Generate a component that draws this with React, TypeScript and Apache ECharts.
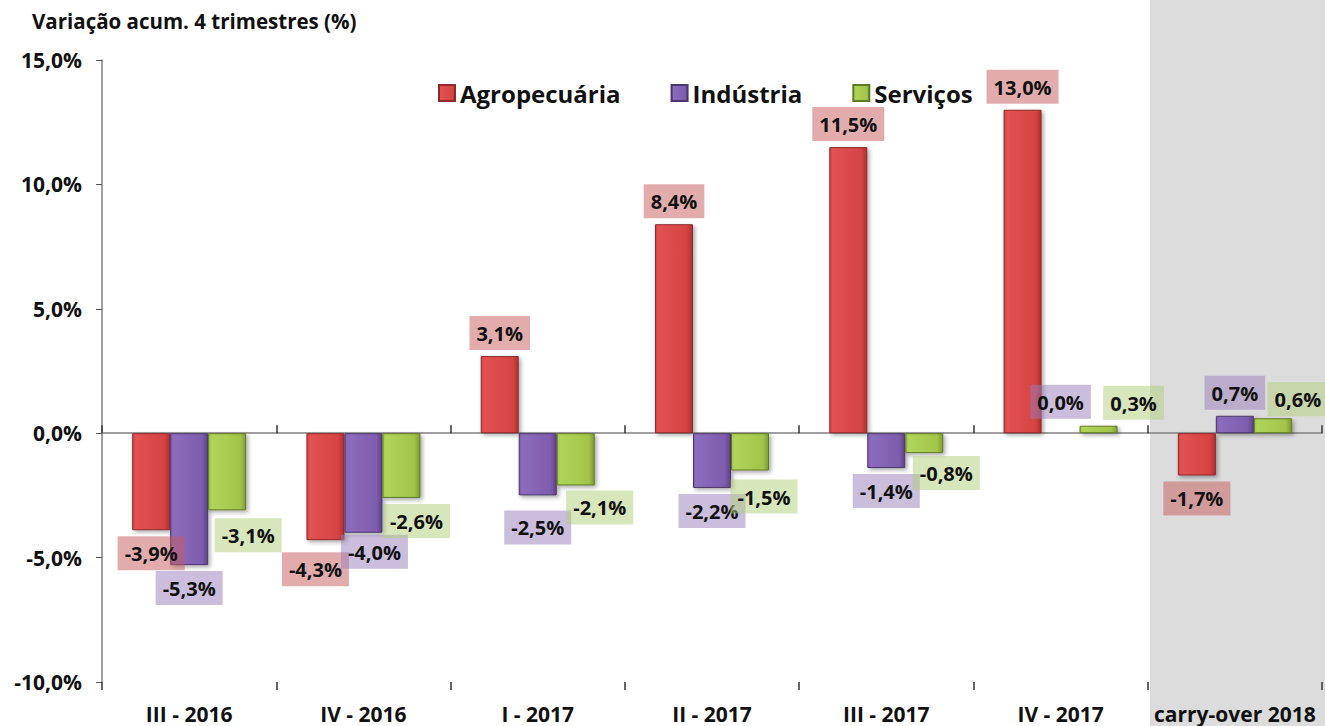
import React, { useEffect, useRef } from "react";
import * as echarts from "echarts";

const categories = ["III - 2016", "IV - 2016", "I - 2017", "II - 2017", "III - 2017", "IV - 2017", "carry-over 2018"];
const agro = [-3.9, -4.3, 3.1, 8.4, 11.5, 13.0, -1.7];
const industria = [-5.3, -4.0, -2.5, -2.2, -1.4, 0.0, 0.7];
const servicos = [-3.1, -2.6, -2.1, -1.5, -0.8, 0.3, 0.6];
const seriesNames = ["Agropecuária", "Indústria", "Serviços"];
const yTicks = { min: -10, max: 15, interval: 5 };

// label nudges (dx, dy) imitating hand-placed labels
const agroNudge = [[0, 0], [-10, 6], [0, 0], [0, 0], [0, 0], [0, 0], [0, 0]];
const indNudge = [[0, 0], [11, -4], [0, 9], [0, 0], [0, 0], [0, -8], [0, 0]];
const servNudge = [[21, 2], [15, 0], [24, -1], [14, 3], [22, -3], [35, 0], [25, 4]];

const FONT = "'Open Sans', 'Liberation Sans', sans-serif";

const fmt = (v: number) => v.toFixed(1).replace(".", ",") + "%";

function grad(light: string, mid: string, dark: string) {
  return new echarts.graphic.LinearGradient(0, 0, 1, 0, [
    { offset: 0, color: mid },
    { offset: 0.08, color: light },
    { offset: 0.85, color: mid },
    { offset: 1, color: dark },
  ]);
}

export default function App() {
  const ref = useRef<HTMLDivElement>(null);
  useEffect(() => {
    if (!ref.current) return;
    const chart = echarts.init(ref.current, undefined, { renderer: "svg" });

    const styles = [
      { fill: grad("#e25252", "#d64343", "#b03030"), border: "#8e2a2a", labelBg: "rgba(200, 90, 90, 0.5)", nudge: agroNudge, data: agro },
      { fill: grad("#8c6cbc", "#7e5cae", "#5f4388"), border: "#4c376c", labelBg: "rgba(150, 125, 185, 0.5)", nudge: indNudge, data: industria },
      { fill: grad("#b0d45a", "#a2c44a", "#7f9c33"), border: "#5f7a25", labelBg: "rgba(175, 205, 120, 0.5)", nudge: servNudge, data: servicos },
    ];

    const series = styles.map((s, si) => ({
      name: seriesNames[si],
      type: "bar",
      xAxisIndex: 0,
      barWidth: 38,
      barGap: "0%",
      itemStyle: {
        color: s.fill,
        borderColor: s.border,
        borderWidth: 1,
        shadowColor: "rgba(0,0,0,0.35)",
        shadowBlur: 4,
        shadowOffsetX: 2,
        shadowOffsetY: 2,
      },
      data: s.data.map((v, i) => ({
        value: v,
        label: {
          show: true,
          position: v < 0 ? "bottom" : "top",
          distance: 6,
          offset: s.nudge[i],
          formatter: () => fmt(v),
          fontFamily: FONT,
          fontWeight: "bold",
          fontSize: 20,
          color: "#111",
          backgroundColor: s.labelBg,
          padding: [5, 7, 4, 7],
          lineHeight: 25,
        },
      })),
    }));

    chart.setOption({
      animation: false,
      backgroundColor: "#ffffff",
      graphic: [
        {
          type: "rect",
          z: -10,
          silent: true,
          shape: { x: 1150, y: 0, width: 175, height: 726 },
          style: { fill: "#dcdcdc" },
        },
      ],
      title: {
        text: "Variação acum. 4 trimestres (%)",
        left: 27,
        top: 5,
        textStyle: { fontFamily: FONT, fontWeight: "bold", fontSize: 20.5, color: "#111" },
      },
      legend: {
        left: 433,
        top: 76,
        icon: "rect",
        itemWidth: 16,
        itemHeight: 16,
        itemGap: 50,
        data: seriesNames,
        textStyle: { fontFamily: FONT, fontWeight: "bold", fontSize: 24, color: "#111" },
      },
      grid: { left: 102, right: 3, top: 60, bottom: 44, containLabel: false },
      xAxis: [
        {
          type: "category",
          data: categories,
          position: "bottom",
          axisLine: { show: false, onZero: false },
          axisTick: { show: false },
          axisLabel: {
            interval: 0,
            margin: 21,
            fontFamily: FONT,
            fontWeight: "bold",
            fontSize: 21,
            color: "#111",
          },
        },
        {
          type: "category",
          data: categories,
          position: "bottom",
          axisLine: { show: true, onZero: true, lineStyle: { color: "#808080", width: 1.5 } },
          axisTick: { show: true, inside: true, interval: 0, length: 8, lineStyle: { color: "#333", width: 1.5 } },
          axisLabel: { show: false },
        },
        {
          type: "category",
          data: categories,
          position: "bottom",
          axisLine: { show: false, onZero: true },
          axisTick: { show: true, inside: false, interval: 0, length: 8, lineStyle: { color: "#333", width: 1.5 } },
          axisLabel: { show: false },
        },
      ],
      yAxis: {
        type: "value",
        min: yTicks.min,
        max: yTicks.max,
        interval: yTicks.interval,
        axisLine: { show: true, lineStyle: { color: "#808080", width: 1.5 } },
        axisTick: { show: true, length: 6, lineStyle: { color: "#555" } },
        splitLine: { show: false },
        axisLabel: {
          margin: 20,
          formatter: (v: number) => fmt(v),
          fontFamily: FONT,
          fontWeight: "bold",
          fontSize: 21,
          color: "#111",
        },
      },
      series,
    });
    return () => chart.dispose();
  }, []);
  return (
    <div
      ref={ref}
      style={{ position: "absolute", left: 0, top: 0, width: 1325, height: 726 }}
    />
  );
}
